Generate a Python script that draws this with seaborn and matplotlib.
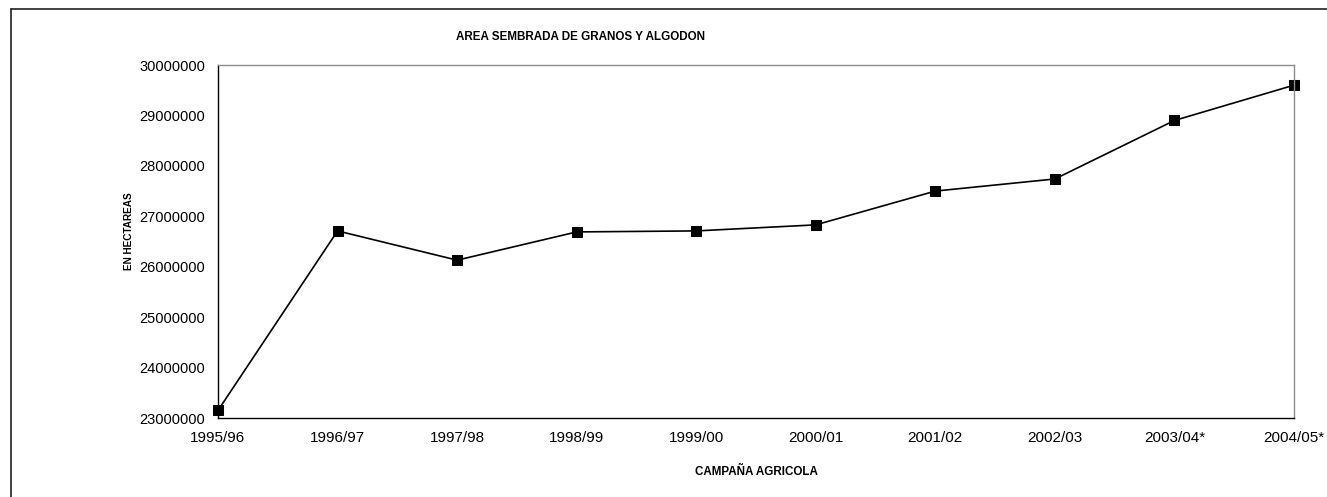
import matplotlib
matplotlib.use("Agg")
import matplotlib.pyplot as plt
import matplotlib.ticker as mticker
from matplotlib.lines import Line2D
import seaborn as sns
import pandas as pd

campanas = ["1995/96", "1996/97", "1997/98", "1998/99", "1999/00",
            "2000/01", "2001/02", "2002/03", "2003/04*", "2004/05*"]
hectareas = [23150000, 26710000, 26130000, 26690000, 26710000,
             26830000, 27500000, 27740000, 28900000, 29600000]
yticks = [23000000, 24000000, 25000000, 26000000, 27000000,
          28000000, 29000000, 30000000]

df = pd.DataFrame({"pos": range(len(campanas)), "ha": hectareas})

sns.set_style("white")
plt.rcParams["font.family"] = ["Liberation Sans", "DejaVu Sans"]
plt.rcParams["text.color"] = "black"

W, H = 1327, 497
fig = plt.figure(figsize=(W / 100, H / 100), dpi=100)
ax = fig.add_axes([218 / W, 1 - 418 / H, (1294 - 218) / W, (418 - 65) / H])

sns.lineplot(data=df, x="pos", y="ha", ax=ax, color="black", linewidth=1.2,
             marker="s", markersize=6.5, markeredgecolor="black",
             markerfacecolor="black", clip_on=False)

ax.set_xlim(0, len(campanas) - 1)
ax.set_ylim(yticks[0], yticks[-1])
ax.set_xticks(range(len(campanas)))
ax.set_xticklabels(campanas)
ax.set_yticks(yticks)
ax.yaxis.set_major_formatter(mticker.FuncFormatter(lambda v, p: f"{int(v)}"))
ax.tick_params(axis="both", direction="inout", length=8, width=0.8,
               colors="black", labelcolor="black")
ax.tick_params(axis="y", labelsize=10.5, pad=5)
ax.tick_params(axis="x", labelsize=11, pad=5)
ax.set_xlabel("")
ax.set_ylabel("")

for s in ["left", "bottom"]:
    ax.spines[s].set_color("black")
    ax.spines[s].set_linewidth(1.0)
for s in ["top", "right"]:
    ax.spines[s].set_color("#8c8c8c")
    ax.spines[s].set_linewidth(1.0)

fig.text(580 / W, 1 - 37 / H, "AREA SEMBRADA DE GRANOS Y ALGODON",
         ha="center", va="center", fontsize=8.4, fontweight="bold", color="black")
fig.text(756 / W, 1 - 472 / H, "CAMPAÑA AGRICOLA", ha="center", va="center",
         fontsize=8.4, fontweight="bold", color="black")
fig.text(129 / W, 1 - 231 / H, "EN HECTAREAS", ha="center", va="center",
         rotation=90, fontsize=7.2, fontweight="bold", color="black")

# outer chart-area border (top and left visible)
fig.add_artist(Line2D([10.5 / W, 10.5 / W], [0, 1 - 8.5 / H], transform=fig.transFigure,
                      color="#222222", linewidth=1.2))
fig.add_artist(Line2D([10.5 / W, 1], [1 - 8.5 / H, 1 - 8.5 / H], transform=fig.transFigure,
                      color="#222222", linewidth=1.2))

fig.savefig("out.png", dpi=100)
